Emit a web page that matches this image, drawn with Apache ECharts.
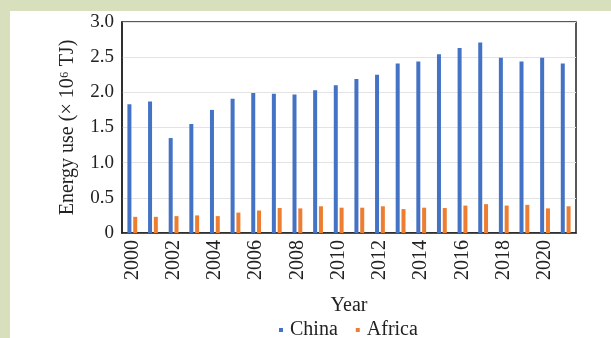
<!DOCTYPE html>
<html>
<head>
<meta charset="utf-8">
<script src="https://cdn.jsdelivr.net/npm/echarts@6/dist/echarts.min.js"></script>
<style>
  html, body { margin: 0; padding: 0; background: #d8dfbd; }
  #chart { position: absolute; left: 10px; top: 11px; width: 601px; height: 327px; background: #ffffff; }
</style>
</head>
<body>
<div id="chart"></div>
<script>
// Annual energy use, × 10^6 TJ
const years = ['2000','2001','2002','2003','2004','2005','2006','2007','2008','2009','2010',
               '2011','2012','2013','2014','2015','2016','2017','2018','2019','2020','2021'];
const china = [1.83, 1.87, 1.35, 1.55, 1.75, 1.91, 1.99, 1.98, 1.97, 2.03, 2.10,
               2.19, 2.25, 2.41, 2.44, 2.54, 2.63, 2.71, 2.49, 2.44, 2.49, 2.41];
const africa = [0.23, 0.23, 0.24, 0.25, 0.24, 0.29, 0.32, 0.355, 0.35, 0.38, 0.36,
                0.36, 0.38, 0.34, 0.36, 0.355, 0.39, 0.41, 0.39, 0.40, 0.35, 0.38];

const serif = '"Liberation Serif", "Times New Roman", serif';
const chart = echarts.init(document.getElementById('chart'));
chart.setOption({
  animation: false,
  grid: {
    left: 112, top: 11, right: 35, bottom: 105,
    show: true, borderColor: '#222', borderWidth: 1.5, backgroundColor: '#ffffff'
  },
  legend: {
    top: 304, left: 264,
    icon: 'rect', itemWidth: 4, itemHeight: 4, itemGap: 18,
    textStyle: { fontFamily: serif, fontSize: 20, color: '#222', padding: [0, 0, 0, 2] },
    data: ['China', 'Africa']
  },
  xAxis: {
    type: 'category',
    data: years,
    name: 'Year',
    nameLocation: 'middle',
    nameGap: 63,
    nameTextStyle: { fontFamily: serif, fontSize: 20, color: '#222' },
    axisLine: { show: true, lineStyle: { color: '#222', width: 1.5 } },
    axisTick: { show: false },
    axisLabel: { rotate: 90, interval: 1, margin: 7, fontFamily: serif, fontSize: 20, color: '#222' }
  },
  yAxis: {
    type: 'value',
    min: 0, max: 3, interval: 0.5,
    name: 'Energy use (× 10⁶ TJ)',
    nameLocation: 'middle',
    nameRotate: 90,
    nameGap: 44,
    nameTextStyle: { fontFamily: serif, fontSize: 20, color: '#222' },
    axisLine: { show: true, lineStyle: { color: '#222', width: 1.5 } },
    axisTick: { show: false },
    axisLabel: {
      margin: 8, fontFamily: serif, fontSize: 19, color: '#222',
      formatter: v => (v === 0 ? '0' : v.toFixed(1))
    },
    splitLine: { lineStyle: { color: '#e3e3e3', width: 1 } }
  },
  series: [
    { name: 'China', type: 'bar', data: china, barWidth: 4, barGap: '45%',
      itemStyle: { color: '#4472c4' } },
    { name: 'Africa', type: 'bar', data: africa, barWidth: 4,
      itemStyle: { color: '#ed7d31' } }
  ]
});
</script>
</body>
</html>
